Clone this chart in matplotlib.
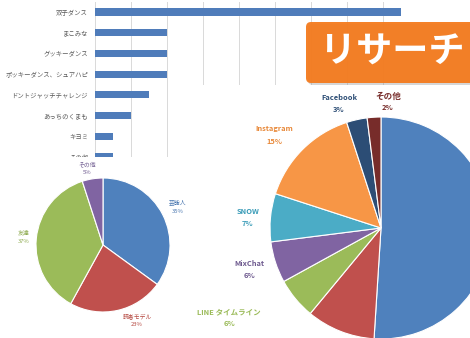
import matplotlib
matplotlib.use('Agg')
import matplotlib.pyplot as plt
from matplotlib.patches import Rectangle, FancyBboxPatch

plt.rcParams['font.family'] = ['Noto Sans CJK JP', 'DejaVu Sans']

## Data
dance_names = ['双子ダンス', 'まこみな', 'グッキーダンス', 'ポッキーダンス、シュアハピ',
               'ドントジャッチチャレンジ', 'あっちのくまも', 'キヨミ', 'その他']
dance_counts = [17, 4, 4, 4, 3, 2, 1, 1]
grid_ticks = [0, 2, 4, 6, 8, 10, 12, 14, 16, 18]

source_names = ['芸能人', '読者モデル', '友達', 'その他']
source_pct = [35, 23, 37, 5]
source_colors = ['#4F81BD', '#C0504D', '#9BBB59', '#8064A2']

app_names = ['', '', 'LINE タイムライン', 'MixChat', 'SNOW', 'Instagram', 'Facebook', 'その他']
app_pct = [51, 10, 6, 6, 7, 15, 3, 2]
app_colors = ['#4F81BD', '#C0504D', '#9BBB59', '#8064A2', '#4BACC6', '#F79646', '#2C4D75', '#772C2A']
app_text_colors = [None, None, '#9BBB59', '#6E5A8F', '#3A9CB8', '#E8893A', '#2C4D75', '#772C2A']

W, H = 470, 338
fig = plt.figure(figsize=(W / 100, H / 100), dpi=100)

## Bar chart (top left, partly covered by the pies)
ax1 = fig.add_axes([95 / W, (H - 167.25) / H, 324 / W, 165.6 / H])
ypos = list(range(len(dance_names)))
ax1.barh(ypos, dance_counts, height=0.34, color='#4F7CBA', zorder=2)
ax1.set_xlim(0, 18)
ax1.set_ylim(7.5, -0.5)
ax1.set_xticks(grid_ticks)
ax1.xaxis.set_ticklabels([])
ax1.tick_params(axis='x', length=0)
ax1.set_yticks(ypos)
ax1.set_yticklabels(dance_names, fontsize=4.6, color='#595959')
ax1.tick_params(axis='y', length=0, pad=5)
ax1.grid(axis='x', color='#D9D9D9', linewidth=0.7)
for s in ax1.spines.values():
    s.set_visible(False)

## Overlay with the two pies and the badge
ax = fig.add_axes([0, 0, 1, 1], zorder=3)
ax.patch.set_alpha(0)
ax.add_patch(Rectangle((0, 0), 196, H - 157, facecolor='white', edgecolor='none', zorder=1))
ax.add_patch(Rectangle((196, 0), W - 196, H - 85, facecolor='white', edgecolor='none', zorder=1))

ax.pie(source_pct, colors=source_colors, startangle=90, counterclock=False,
       center=(103, H - 245), radius=67, frame=True,
       wedgeprops=dict(edgecolor='white', linewidth=0.8, zorder=2))

ax.pie(app_pct, colors=app_colors, startangle=90, counterclock=False,
       center=(381, H - 228), radius=111, frame=True,
       wedgeprops=dict(edgecolor='white', linewidth=0.8, zorder=2))

# small pie labels
small_pos = [(178, 203), (137, 316), (24, 233), (87, 164)]
small_txt_colors = ['#4A77B0', '#B5473F', '#8DAA4E', '#6E5A8F']
for name, p, (x, y), c in zip(source_names, source_pct, small_pos, small_txt_colors):
    ax.text(x, H - y, name, fontsize=4.2, color=c, ha='center', va='center', zorder=4)
    ax.text(x, H - y - 8.5, f'{p}%', fontsize=4.2, color=c, ha='center', va='center', zorder=4)

# big pie labels
big_pos = [None, None, (229, 312), (249, 263), (248, 212), (274, 129), (339, 98), (388, 96)]
for name, p, pos, c in zip(app_names, app_pct, big_pos, app_text_colors):
    if pos is None:
        continue
    x, y = pos
    fs = 6.2 if name == 'その他' else 5.4
    ax.text(x, H - y, name, fontsize=fs, color=c, ha='center', va='center',
            fontweight='bold', zorder=4)
    ax.text(x, H - y - 12, f'{p}%', fontsize=5.4, color=c, ha='center', va='center',
            fontweight='bold', zorder=4)

# badge
ax.add_patch(FancyBboxPatch((308, H - 85), 200, 61, boxstyle='round,pad=0,rounding_size=5',
                            facecolor='#8A8A8A', edgecolor='none', alpha=0.35, zorder=5))
ax.add_patch(FancyBboxPatch((306, H - 83), 200, 61, boxstyle='round,pad=0,rounding_size=5',
                            facecolor='#F47C20', edgecolor='none', alpha=0.96, zorder=6))
ax.text(392, H - 52, 'リサーチ', fontsize=26, color='white', fontweight='bold',
        ha='center', va='center', zorder=7)

ax.set_xlim(0, W)
ax.set_ylim(0, H)
ax.set_axis_off()

fig.savefig('out.png', dpi=100)
plt.close('all')
